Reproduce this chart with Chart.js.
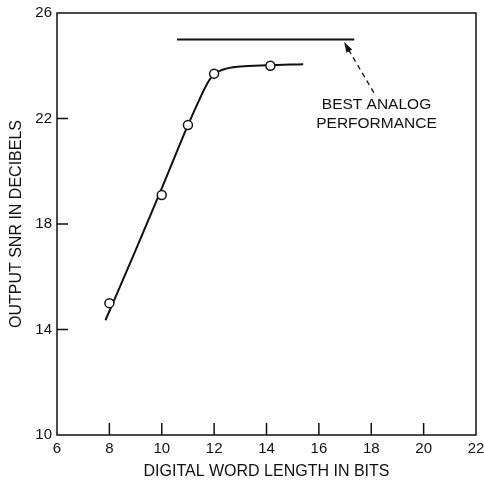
<!DOCTYPE html>
<html>
<head>
<meta charset="utf-8">
<script src="https://cdn.jsdelivr.net/npm/chart.js@4/dist/chart.umd.min.js"></script>
<style>
  html, body { margin: 0; padding: 0; background: #fff; }
  canvas { display: block; }
</style>
</head>
<body>
<canvas id="snrChart" width="484" height="483"></canvas>
<script>
// Measured points (circles)
const bitsMeasured = [8, 10, 11, 12, 14.15];
const snrMeasured = [15.0, 19.1, 21.75, 23.7, 24.0];

// Hand-drawn fitted curve
const bitsCurve = [7.85, 9, 10, 11, 11.5, 11.75, 12, 12.5, 13, 14, 15.4];
const snrCurve = [14.35, 17.0, 19.35, 21.75, 22.85, 23.35, 23.68, 23.9, 23.97, 24.02, 24.06];

// Best analog performance level
const bitsAnalog = [10.58, 17.35];
const snrAnalog = [25, 25];

// Annotation: dashed arrow and its label
const arrowFrom = [18.1, 22.98];
const arrowTo = [16.96, 24.9];
const noteLines = ['BEST ANALOG', 'PERFORMANCE'];
const noteX = 18.2;
const noteY = [22.52, 21.82];

// Axis ticks
const xTicks = [6, 8, 10, 12, 14, 16, 18, 20, 22];
const yTicks = [10, 14, 18, 22, 26];

const toPoints = (xs, ys) => xs.map((x, i) => ({ x: x, y: ys[i] }));
const ink = '#111';
const fontName = '"Liberation Sans", Arial, Helvetica, sans-serif';

// Cadre + graduations intérieures + annotation
const decorPlugin = {
  id: 'decor',
  afterDraw(chart) {
    const { ctx, chartArea: a, scales: { x, y } } = chart;
    ctx.save();
    ctx.strokeStyle = ink;
    ctx.lineWidth = 1.5;
    ctx.strokeRect(a.left, a.top, a.right - a.left, a.bottom - a.top);

    ctx.beginPath();
    xTicks.slice(1, -1).forEach(v => {
      const px = x.getPixelForValue(v);
      ctx.moveTo(px, a.bottom);
      ctx.lineTo(px, a.bottom - 12);
    });
    yTicks.slice(1, -1).forEach(v => {
      const py = y.getPixelForValue(v);
      ctx.moveTo(a.left, py);
      ctx.lineTo(a.left + 11, py);
    });
    ctx.stroke();

    // flèche pointillée
    const x0 = x.getPixelForValue(arrowFrom[0]), y0 = y.getPixelForValue(arrowFrom[1]);
    const x1 = x.getPixelForValue(arrowTo[0]), y1 = y.getPixelForValue(arrowTo[1]);
    const ang = Math.atan2(y1 - y0, x1 - x0);
    const head = 11;
    ctx.lineWidth = 1.3;
    ctx.setLineDash([5, 4]);
    ctx.beginPath();
    ctx.moveTo(x0, y0);
    ctx.lineTo(x1 - Math.cos(ang) * head * 0.8, y1 - Math.sin(ang) * head * 0.8);
    ctx.stroke();
    ctx.setLineDash([]);
    ctx.fillStyle = ink;
    ctx.beginPath();
    ctx.moveTo(x1, y1);
    ctx.lineTo(x1 - head * Math.cos(ang - 0.3), y1 - head * Math.sin(ang - 0.3));
    ctx.lineTo(x1 - head * Math.cos(ang + 0.3), y1 - head * Math.sin(ang + 0.3));
    ctx.closePath();
    ctx.fill();

    ctx.font = '15.5px ' + fontName;
    ctx.textAlign = 'center';
    ctx.textBaseline = 'middle';
    noteLines.forEach((t, i) => {
      ctx.fillText(t, x.getPixelForValue(noteX), y.getPixelForValue(noteY[i]));
    });
    ctx.restore();
  }
};

new Chart(document.getElementById('snrChart'), {
  type: 'scatter',
  data: {
    datasets: [
      {
        label: 'curve',
        data: toPoints(bitsCurve, snrCurve),
        showLine: true,
        cubicInterpolationMode: 'monotone',
        borderColor: ink,
        borderWidth: 2,
        pointRadius: 0,
        order: 2
      },
      {
        label: 'analog',
        data: toPoints(bitsAnalog, snrAnalog),
        showLine: true,
        borderColor: ink,
        borderWidth: 2,
        pointRadius: 0,
        order: 3
      },
      {
        label: 'measured',
        data: toPoints(bitsMeasured, snrMeasured),
        showLine: false,
        pointRadius: 4.5,
        pointBorderWidth: 1.5,
        pointBackgroundColor: '#fff',
        pointBorderColor: ink,
        order: 1
      }
    ]
  },
  options: {
    responsive: false,
    animation: false,
    events: [],
    layout: { padding: { top: 13, right: 8, left: 0, bottom: 0 } },
    plugins: { legend: { display: false }, tooltip: { enabled: false } },
    scales: {
      x: {
        type: 'linear',
        min: 6,
        max: 22,
        afterFit: s => { s.height = 48; s.paddingLeft = 0; s.paddingRight = 0; },
        afterBuildTicks: s => { s.ticks = xTicks.map(v => ({ value: v })); },
        grid: { display: false, drawTicks: false },
        border: { display: false },
        ticks: { color: ink, padding: 5, font: { family: fontName, size: 15 } },
        title: {
          display: true,
          text: 'DIGITAL WORD LENGTH IN BITS',
          color: ink,
          padding: { top: 0, bottom: 1.5 },
          font: { family: fontName, size: 16 }
        }
      },
      y: {
        type: 'linear',
        min: 10,
        max: 26,
        afterFit: s => { s.width = 57; s.paddingTop = 0; s.paddingBottom = 0; },
        afterBuildTicks: s => { s.ticks = yTicks.map(v => ({ value: v })); },
        grid: { display: false, drawTicks: false },
        border: { display: false },
        ticks: { color: ink, padding: 5, font: { family: fontName, size: 15 } },
        title: {
          display: true,
          text: 'OUTPUT SNR IN DECIBELS',
          color: ink,
          padding: { top: 7, bottom: 0 },
          font: { family: fontName, size: 16 }
        }
      }
    }
  },
  plugins: [decorPlugin]
});
</script>
</body>
</html>
